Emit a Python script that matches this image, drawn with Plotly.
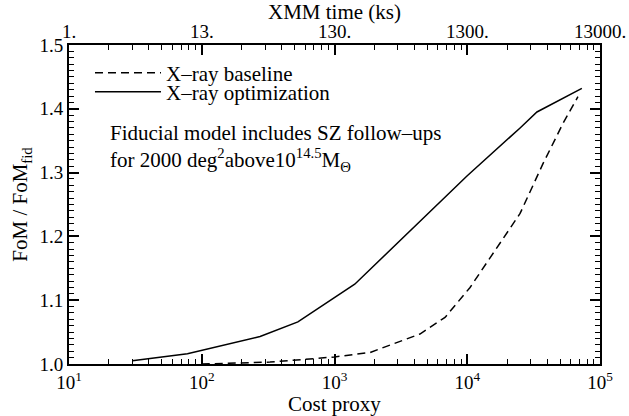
import plotly.graph_objects as go

# ---- data ----
opt_cost = [30, 78, 275, 530, 1420, 4000, 10000, 25000, 33500, 73000]
opt_fom = [1.005, 1.016, 1.043, 1.066, 1.125, 1.215, 1.295, 1.370, 1.395, 1.432]

base_cost = [100, 327, 1000, 1850, 4400, 6800, 10500, 16700, 25000, 37200, 52600, 68200]
base_fom = [1.000, 1.003, 1.011, 1.018, 1.047, 1.073, 1.120, 1.183, 1.236, 1.314, 1.377, 1.419]

bottom_tickvals = [10, 100, 1000, 10000, 100000]
bottom_ticktext = ["10<sup>1</sup>", "10<sup>2</sup>", "10<sup>3</sup>", "10<sup>4</sup>", "10<sup>5</sup>"]
top_ticktext = ["1.", "13.", "130.", "1300.", "13000."]
y_tickvals = [1.0, 1.1, 1.2, 1.3, 1.4, 1.5]
y_ticktext = ["1.0", "1.1", "1.2", "1.3", "1.4", "1.5"]

minor_x = [m * 10 ** k for k in range(1, 5) for m in range(2, 10)]

FONT = "Liberation Serif"
TFS = 19   # tick labels
FS = 21    # titles, legend, notes

fig = go.Figure()
fig.add_trace(go.Scatter(x=base_cost, y=base_fom, mode="lines", name="X–ray baseline",
                         line=dict(color="black", width=1.5, dash="8px,5px"), legend="legend"))
fig.add_trace(go.Scatter(x=opt_cost, y=opt_fom, mode="lines", name="X–ray optimization",
                         line=dict(color="black", width=1.5), legend="legend2"))
fig.add_trace(go.Scatter(x=[10, 100000], y=[None, None], xaxis="x2", showlegend=False,
                         hoverinfo="skip", mode="lines"))

common_x = dict(type="log", range=[1, 5], tickmode="array", tickvals=bottom_tickvals,
                ticks="inside", ticklen=10, tickwidth=1.5, tickcolor="black", automargin=False,
                showline=True, linecolor="black", linewidth=2, showgrid=False, zeroline=False,
                minor=dict(tickmode="array", tickvals=minor_x, ticks="inside", ticklen=5,
                           tickwidth=1.2, tickcolor="black", showgrid=False),
                tickfont=dict(family=FONT, size=TFS, color="black"))

leg_common = dict(xanchor="left", yanchor="middle", bgcolor="rgba(0,0,0,0)",
                  font=dict(family=FONT, size=FS, color="black"), itemwidth=66,
                  borderwidth=0)

fig.update_layout(
    width=629, height=416,
    margin=dict(l=69, r=29, t=45, b=52, autoexpand=False),
    paper_bgcolor="white", plot_bgcolor="white",
    font=dict(family=FONT, size=FS, color="black"),
    xaxis=dict(**common_x, ticktext=bottom_ticktext, mirror=True, ticklabelstandoff=0,
               title=dict(text="Cost proxy", standoff=0, font=dict(family=FONT, size=FS))),
    xaxis2=dict(**common_x, ticktext=top_ticktext, overlaying="x", side="top",
                ticklabelstandoff=-3,
                title=dict(text="XMM time (ks)", standoff=0, font=dict(family=FONT, size=FS))),
    yaxis=dict(range=[1.0, 1.5], tickmode="array", tickvals=y_tickvals, ticktext=y_ticktext,
               ticks="inside", ticklen=10, tickwidth=1.5, tickcolor="black", automargin=False,
               showline=True, linecolor="black", linewidth=2, mirror="ticks",
               showgrid=False, zeroline=False,
               minor=dict(dtick=0.01, ticks="inside", ticklen=5, tickwidth=1.2,
                          tickcolor="black", showgrid=False),
               tickfont=dict(family=FONT, size=TFS, color="black"),
               title=dict(text="FoM / FoM<sub>fid</sub>", standoff=6,
                          font=dict(family=FONT, size=FS))),
    legend=dict(x=0.0395, y=0.912, **leg_common),
    legend2=dict(x=0.0395, y=0.852, **leg_common),
    showlegend=True,
)

fig.add_annotation(x=0.073, y=0.678, xref="paper", yref="paper", xanchor="left", yanchor="middle",
                   align="left", showarrow=False, font=dict(family=FONT, size=FS),
                   text="Fiducial model includes SZ follow–ups<br>"
                        "for 2000 deg<sup>2</sup>above10<sup>14.5</sup>M<sub>Θ</sub>")

fig.write_html("out.html")
